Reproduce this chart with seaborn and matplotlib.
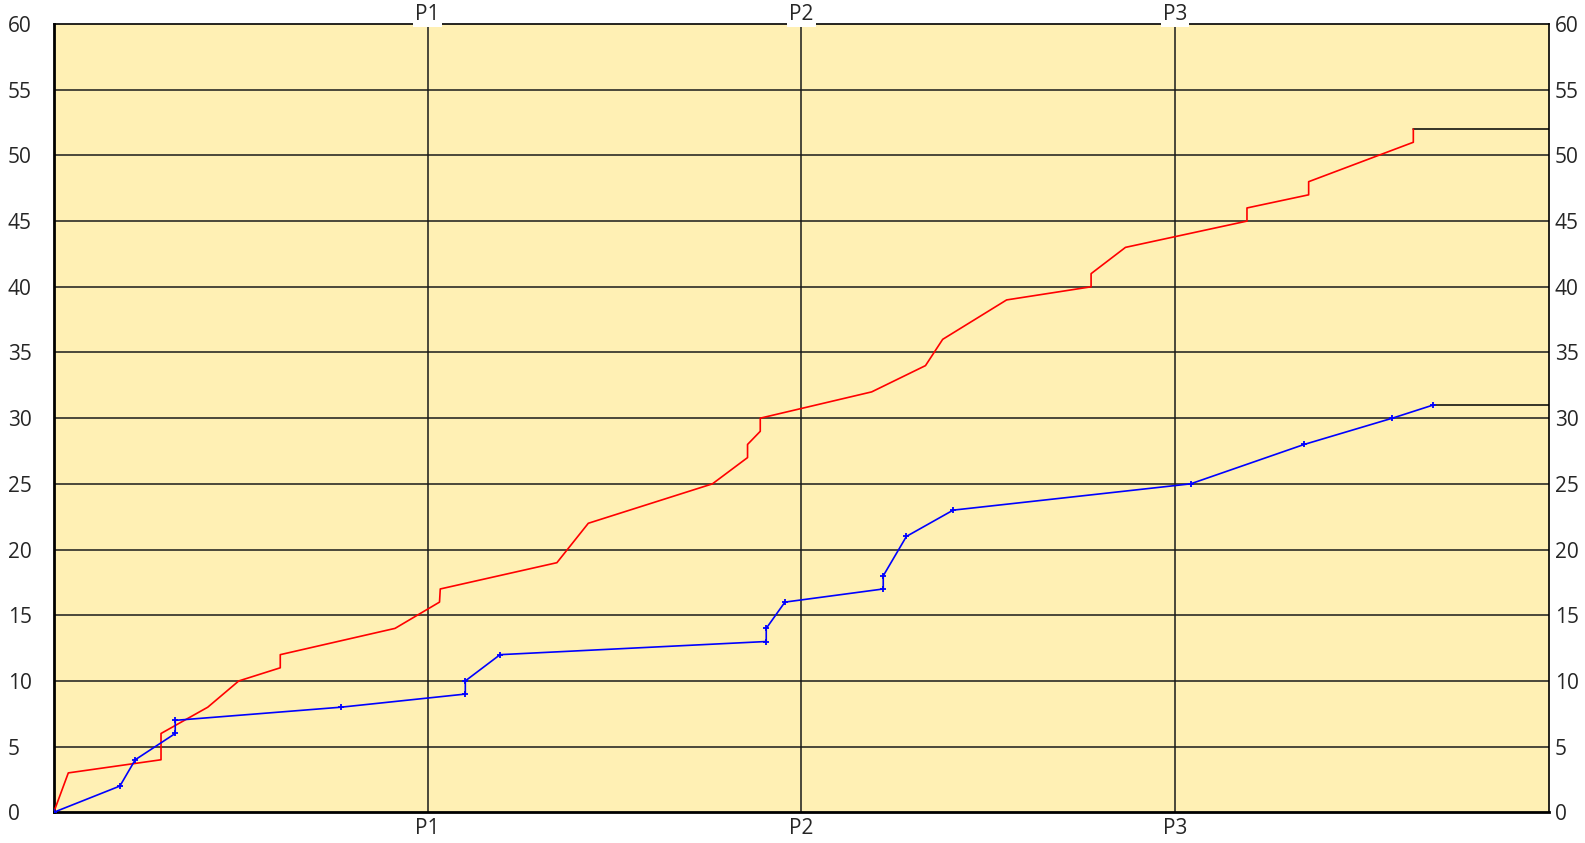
import pandas as pd
import numpy as np
import matplotlib
matplotlib.use('Agg')
import matplotlib.pyplot as plt
import matplotlib.transforms as mtransforms
import seaborn as sns

# Period markers on the x axis
period_pos = [1, 2, 3]
period_labels = ['P1', 'P2', 'P3']

# Red series (cumulative count)
red_x = [0, 0.039, 0.287, 0.287, 0.412, 0.495, 0.606, 0.606, 0.913, 1.032, 1.034,
         1.346, 1.43, 1.762, 1.856, 1.856, 1.890, 1.890, 2.188, 2.332, 2.378, 2.549,
         2.775, 2.775, 2.867, 3.192, 3.192, 3.357, 3.357, 3.637, 3.637]
red_y = [0, 3, 4, 6, 8, 10, 11, 12, 14, 16, 17,
         19, 22, 25, 27, 28, 29, 30, 32, 34, 36, 39,
         40, 41, 43, 45, 46, 47, 48, 51, 52]

# Blue series (cumulative count, with markers)
blue_x = [0, 0.177, 0.218, 0.325, 0.325, 0.768, 1.101, 1.101, 1.194, 1.906, 1.906,
          1.956, 2.219, 2.219, 2.281, 2.406, 3.041, 3.345, 3.581, 3.69]
blue_y = [0, 2, 4, 6, 7, 8, 9, 10, 12, 13, 14,
          16, 17, 18, 21, 23, 25, 28, 30, 31]

x_end = 4
y_ticks = list(range(0, 61, 5))

sns.set_style('white')
plt.rcParams['font.family'] = ['Open Sans', 'DejaVu Sans']

fig = plt.figure(figsize=(15.85, 8.43), dpi=100)
ax = fig.add_axes([0.0339, 0.0364, 0.9434, 0.9351])
ax.set_facecolor('#fff0b4')

# grid: horizontal every 5, vertical at the periods
for yv in y_ticks[1:-1]:
    ax.axhline(yv, color='#1a1a1a', lw=1.1, zorder=1)
for xv in period_pos:
    ax.axvline(xv, color='#1a1a1a', lw=1.1, zorder=1)

red = pd.DataFrame({'x': red_x, 'y': red_y})
blue = pd.DataFrame({'x': blue_x, 'y': blue_y})

sns.lineplot(data=red, x='x', y='y', sort=False, estimator=None, color='#ff0000',
             lw=1.2, ax=ax, zorder=3)
sns.lineplot(data=blue, x='x', y='y', sort=False, estimator=None, color='#0000ff',
             lw=1.2, marker='+', markersize=5, markeredgewidth=1.3,
             markeredgecolor='#0000ff', ax=ax, zorder=3)

# flat continuation to the right edge, in black
ax.plot([red_x[-1], x_end], [red_y[-1], red_y[-1]], color='black', lw=1.1, zorder=2)
ax.plot([blue_x[-1], x_end], [blue_y[-1], blue_y[-1]], color='black', lw=1.1, zorder=2)

ax.set_xlim(0, x_end)
ax.set_ylim(0, 60)
ax.set_xlabel('')
ax.set_ylabel('')

ax.set_xticks(period_pos)
ax.set_xticklabels(period_labels, fontsize=15)
ax.set_yticks(y_ticks)
ax.set_yticklabels([str(v) for v in y_ticks], fontsize=15)
ax.tick_params(axis='x', length=0, pad=4)
ax.tick_params(axis='y', length=0, pad=33, labelright=True)

# left labels are left-aligned near the figure edge, right ones hug the border
shift = mtransforms.ScaledTranslation(-29 / 72, 0, fig.dpi_scale_trans)
for t in ax.yaxis.get_major_ticks():
    t.label1.set_horizontalalignment('left')
    t.label2.set_horizontalalignment('left')
    t.label2.set_transform(t.label2.get_transform() + shift)

# period labels on top, boxed in white over the top border
for xv, lab in zip(period_pos, period_labels):
    ax.annotate(lab, xy=(xv, 60), xytext=(0, -1), textcoords='offset points',
                ha='center', va='bottom', fontsize=15, zorder=5,
                bbox=dict(fc='white', ec='none', pad=1.5), annotation_clip=False)

for side in ['top', 'right']:
    ax.spines[side].set_linewidth(1.2)
    ax.spines[side].set_color('black')
for side in ['left', 'bottom']:
    ax.spines[side].set_linewidth(2)
    ax.spines[side].set_color('black')

fig.savefig('out.png', dpi=100)
